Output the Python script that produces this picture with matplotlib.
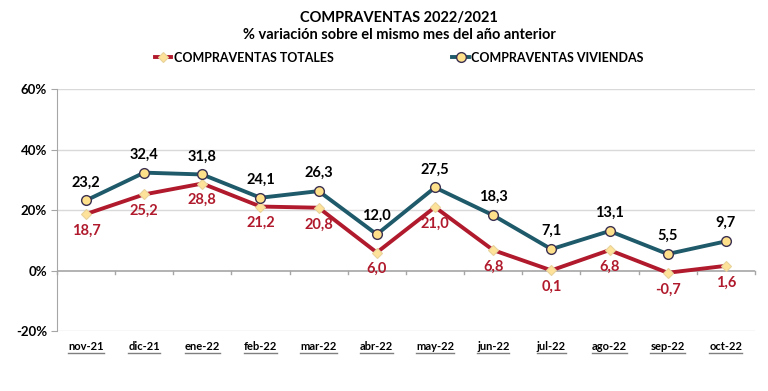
import matplotlib
matplotlib.use("Agg")
import matplotlib.pyplot as plt
from matplotlib.lines import Line2D
import numpy as np

months = ["nov-21", "dic-21", "ene-22", "feb-22", "mar-22", "abr-22", "may-22",
          "jun-22", "jul-22", "ago-22", "sep-22", "oct-22"]
totales = [18.7, 25.2, 28.8, 21.2, 20.8, 6.0, 21.0, 6.8, 0.1, 6.8, -0.7, 1.6]
viviendas = [23.2, 32.4, 31.8, 24.1, 26.3, 12.0, 27.5, 18.3, 7.1, 13.1, 5.5, 9.7]
yticks = [-20, 0, 20, 40, 60]

plt.rcParams['font.family'] = ['Lato', 'DejaVu Sans']
plt.rcParams['font.weight'] = 'bold'

RED = "#B01A2C"
BLUE = "#1E5A6A"

fig = plt.figure(figsize=(7.68, 3.91), dpi=100)
ax = fig.add_axes([0.074, 0.153, 0.909, 0.619])
x = np.arange(len(months))

ax.plot(x, totales, color=RED, lw=2.8, marker="D", ms=5.5,
        mfc="#FFE29A", mec="#E8D29A", mew=0.8, zorder=3, label="COMPRAVENTAS TOTALES")
ax.plot(x, viviendas, color=BLUE, lw=2.8, marker="o", ms=7,
        mfc="#FFE08A", mec="#3A3050", mew=1.0, zorder=4, label="COMPRAVENTAS VIVIENDAS")

def fmt(v):
    return f"{v:.1f}".replace(".", ",")

for xi, v in zip(x, viviendas):
    ax.annotate(fmt(v), (xi, v), xytext=(0, 8), textcoords="offset points",
                ha="center", va="bottom", fontsize=10.5, fontweight="bold", color="black")
for xi, v in zip(x, totales):
    ax.annotate(fmt(v), (xi, v), xytext=(0, -7), textcoords="offset points",
                ha="center", va="top", fontsize=10.5, fontweight="bold", color=RED)

ax.set_xlim(-0.5, len(months) - 0.5)
ax.set_ylim(-20, 60)
ax.set_yticks(yticks)
ax.set_yticklabels([f"{t}%" for t in yticks], fontsize=9.5, fontweight="bold")
for t in [20, 40, 60]:
    ax.axhline(t, color="#D9D9D9", lw=1.0, zorder=0)
ax.axhline(-20, color="#D9D9D9", lw=1.0, zorder=0)
ax.axhline(0, color="#A6A6A6", lw=1.2, zorder=1)
# category tick marks on the zero line
for b in np.arange(-0.5, len(months), 1.0):
    ax.plot([b, b], [0, -1.2], color="#A6A6A6", lw=1.0, zorder=1, clip_on=False)

for s in ["top", "right", "bottom"]:
    ax.spines[s].set_visible(False)
ax.spines["left"].set_color("#A6A6A6")
ax.tick_params(axis="y", length=4, color="#A6A6A6", pad=3)
ax.set_xticks(x)
ax.set_xticklabels(months, fontsize=8, fontweight="bold")
ax.tick_params(axis="x", length=0, pad=7)

fig.text(0.52, 0.955, "COMPRAVENTAS 2022/2021", ha="center", va="center",
         fontsize=10.5, fontweight="bold")
fig.text(0.52, 0.91, "% variación sobre el mismo mes del año anterior", ha="center",
         va="center", fontsize=10.5, fontweight="bold")

h, l = ax.get_legend_handles_labels()
fig.legend(h, l, loc="center", bbox_to_anchor=(0.52, 0.852), ncol=2, frameon=False,
           handlelength=1.3, handletextpad=0.2, columnspacing=9.5,
           prop={"weight": "bold", "size": 9})

fig.canvas.draw()
inv = fig.transFigure.inverted()
for lab in ax.get_xticklabels():
    bb = lab.get_window_extent()
    (x0, y0), (x1, y1) = inv.transform([(bb.x0, bb.y0 - 1.5), (bb.x1, bb.y0 - 1.5)])
    fig.add_artist(Line2D([x0, x1], [y0, y0], color="#7F7F7F", lw=1.0,
                          transform=fig.transFigure))

fig.savefig("out.png", dpi=100)
